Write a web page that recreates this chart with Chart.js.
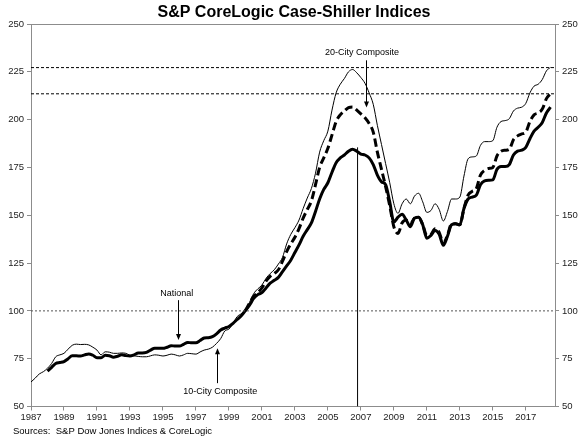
<!DOCTYPE html>
<html>
<head>
<meta charset="utf-8">
<script src="https://cdn.jsdelivr.net/npm/chart.js@4.4.1/dist/chart.umd.min.js"></script>
<style>
  html, body { margin: 0; padding: 0; background: #fff; }
  #wrap { width: 587px; height: 437px; position: relative; }
</style>
</head>
<body>
<div id="wrap"><canvas id="csChart"></canvas></div>
<script>
// Quarterly readings (Jan, Apr, Jul, Oct) taken off the chart
const firstYear = 1987;
const quarterSteps = [0, 0.25, 0.5, 0.75];

// 10-City Composite, from Jan 1987
const tenCity = [
  62.8, 64.8, 67.0, 68.2,   70.0, 72.5, 76.0, 77.0,   77.8, 80.0, 82.0, 82.6,
  82.4, 82.5, 82.2, 81.0,   79.5, 77.0, 78.6, 78.4,   77.8, 77.8, 78.0, 77.8,
  76.8, 76.5, 76.2, 76.0,   76.0, 76.5, 77.0, 76.8,   76.4, 76.8, 77.4, 77.0,
  76.4, 77.0, 77.8, 77.6,   77.4, 78.5, 79.5, 80.0,   81.0, 83.0, 85.5, 89.5,
  90.5, 93.5, 97.0, 98.5,   100.2, 104.5, 109.0, 111.5, 113.5, 117.0, 119.5, 121.5,
  124.5, 128.0, 135.0, 140.0, 143.5, 147.5, 153.5, 159.0, 164.0, 172.0, 183.0, 189.0,
  194.0, 205.0, 214.0, 218.5, 221.5, 225.0, 226.2, 224.5, 222.0, 219.0, 214.0, 208.0,
  197.0, 187.0, 177.0, 167.0, 156.0, 151.0, 156.0, 158.5, 156.0, 160.0, 161.5, 157.0,
  151.5, 152.5, 156.0, 153.0, 147.0, 152.0, 158.5, 158.5, 159.5, 170.5, 179.5, 180.5,
  181.0, 186.5, 188.5, 188.5, 189.0, 196.0, 199.0, 199.5, 200.5, 204.5, 206.0, 206.5,
  208.5, 214.0, 217.5, 218.5, 221.0, 225.5, 227.3
];

// 20-City Composite, from Jan 2000
const twentyStart = 2000;
const twentyCity = [
  100.0, 104.0, 107.5, 109.5, 112.0, 115.5, 118.0, 119.5, 121.5, 126.0, 131.0, 135.0,
  138.5, 143.0, 148.5, 153.0, 157.5, 166.0, 175.0, 180.0, 185.0, 192.0, 199.0, 202.5,
  204.5, 206.3, 206.6, 205.0, 203.0, 201.0, 198.0, 193.5, 183.0, 174.0, 165.0, 155.0,
  144.0, 140.5, 146.0, 147.5, 145.5, 148.5, 149.0, 145.0, 139.5, 140.0, 143.0, 141.0,
  135.5, 139.5, 145.5, 145.5, 145.0, 153.5, 160.5, 162.5, 164.0, 171.0, 173.5, 174.5,
  175.0, 181.0, 183.5, 184.0, 184.5, 189.5, 191.5, 192.5, 193.5, 199.0, 202.5, 203.5,
  205.5, 211.0, 213.6
];

// National, from Jan 1988
const nationalStart = 1988;
const national = [
  68.5, 70.5, 72.5, 73.0,   73.5, 75.0, 76.5, 76.5,   76.4, 77.0, 77.5, 76.8,
  75.5, 75.5, 76.8, 76.5,   75.8, 76.3, 77.0, 76.6,   76.4, 77.0, 78.0, 78.0,
  78.3, 79.5, 80.5, 80.4,   80.4, 81.0, 81.8, 81.6,   81.6, 82.5, 83.5, 83.3,
  83.3, 84.5, 85.8, 86.0,   86.5, 88.0, 90.0, 91.0,   91.8, 93.5, 95.5, 97.5,
  100.2, 103.0, 106.5, 108.5, 109.5, 112.0, 114.5, 116.0, 117.5, 120.5, 123.5, 126.5,
  130.5, 134.5, 139.0, 142.5, 146.0, 152.0, 158.5, 163.5, 167.0, 172.5, 177.5, 180.0,
  181.5, 183.5, 184.5, 183.5, 182.0, 181.5, 180.0, 176.5, 171.0, 167.5, 166.0, 157.0,
  146.5, 149.0, 150.5, 147.5, 144.0, 148.5, 149.0, 145.0, 138.0, 139.5, 142.0, 140.0,
  134.3, 139.0, 145.0, 145.5, 145.0, 153.5, 158.5, 159.5, 160.5, 166.0, 168.0, 168.3,
  168.5, 174.0, 175.5, 175.5, 176.5, 181.5, 183.5, 184.0, 185.5, 190.0, 194.0, 196.0,
  198.5, 203.5, 206.5
];

const refLevels = [227.2, 213.5];   // dashed lines (latest 10-City and 20-City levels)
const baseLevel = 100;              // Jan 2000 = 100
const peakYear = 2006.8;            // vertical marker at the national peak
const peakTop = 185.5;

const xMin = 1987, xMax = 2018.77;
const yearTicks = [1987, 1989, 1991, 1993, 1995, 1997, 1999, 2001, 2003, 2005, 2007, 2009, 2011, 2013, 2015, 2017];
const yTicks = [50, 75, 100, 125, 150, 175, 200, 225, 250];

// labels with arrows: text position, arrow start and tip in data units
const callouts = [
  { text: '20-City Composite', tx: 2007.07, ty: 235.3, ax: 2007.29, y0: 231.0, y1: 206.3 },
  { text: 'National',          tx: 1995.84, ty: 109.1, ax: 1995.94, y0: 105.6, y1: 84.8 },
  { text: '10-City Composite', tx: 1998.47, ty: 57.7,  ax: 1998.27, y0: 62.2,  y1: 80.5 }
];

function toPoints(values, startYear) {
  const pts = [];
  values.forEach((v, i) => {
    const yr = startYear + Math.floor(i / 4) + quarterSteps[i % 4];
    pts.push({ x: yr, y: v });
  });
  return pts;
}

const calloutPlugin = {
  id: 'callouts',
  afterDatasetsDraw(chart) {
    const ctx = chart.ctx;
    const xs = chart.scales.x, ys = chart.scales.y;
    ctx.save();
    ctx.fillStyle = '#000';
    ctx.strokeStyle = '#000';
    ctx.lineWidth = 1;
    ctx.font = '9px "Liberation Sans", Arial, sans-serif';
    ctx.textAlign = 'center';
    ctx.textBaseline = 'middle';
    callouts.forEach(c => {
      ctx.fillText(c.text, xs.getPixelForValue(c.tx), ys.getPixelForValue(c.ty));
      const ax = Math.round(xs.getPixelForValue(c.ax)) + 0.5;
      const p0 = ys.getPixelForValue(c.y0), p1 = ys.getPixelForValue(c.y1);
      const dir = p1 > p0 ? 1 : -1;
      ctx.beginPath();
      ctx.moveTo(ax, p0);
      ctx.lineTo(ax, p1 - dir * 5);
      ctx.stroke();
      ctx.beginPath();
      ctx.moveTo(ax, p1);
      ctx.lineTo(ax - 2.5, p1 - dir * 6);
      ctx.lineTo(ax + 2.5, p1 - dir * 6);
      ctx.closePath();
      ctx.fill();
    });
    // top border of the plot box
    const a = chart.chartArea;
    ctx.strokeStyle = '#8c8c8c';
    ctx.beginPath();
    ctx.moveTo(a.left, Math.round(a.top) + 0.5);
    ctx.lineTo(a.right, Math.round(a.top) + 0.5);
    ctx.stroke();
    // title and source line
    ctx.fillStyle = '#000';
    ctx.font = 'bold 16px "Liberation Sans", Arial, sans-serif';
    ctx.fillText('S&P CoreLogic Case-Shiller Indices', 294, 13);
    ctx.font = '9.5px "Liberation Sans", Arial, sans-serif';
    ctx.textAlign = 'left';
    ctx.fillText('Sources:  S&P Dow Jones Indices & CoreLogic', 13, 431);
    ctx.restore();
  }
};

const refSets = refLevels.map(v => ({
  data: [{ x: xMin, y: v }, { x: xMax, y: v }],
  borderColor: '#000', borderWidth: 1, borderDash: [3, 2],
  pointRadius: 0, tension: 0
}));

const yAxisBase = {
  type: 'linear', min: 50, max: 250,
  afterBuildTicks: s => { s.ticks = yTicks.map(v => ({ value: v })); },
  border: { display: true, color: '#8c8c8c', width: 1 },
  grid: { drawOnChartArea: false, drawTicks: true, tickLength: 4, color: '#8c8c8c' },
  ticks: { color: '#222', font: { family: '"Liberation Sans", Arial, sans-serif', size: 9.5 }, padding: 3 }
};

new Chart(document.getElementById('csChart'), {
  type: 'line',
  data: {
    datasets: [
      ...refSets,
      {
        data: [{ x: xMin, y: baseLevel }, { x: xMax, y: baseLevel }],
        borderColor: '#555', borderWidth: 1, borderDash: [2, 2], pointRadius: 0
      },
      {
        data: [{ x: peakYear, y: 50 }, { x: peakYear, y: peakTop }],
        borderColor: '#000', borderWidth: 1, pointRadius: 0
      },
      {
        label: '10-City Composite',
        data: toPoints(tenCity, firstYear),
        borderColor: '#000', borderWidth: 1, pointRadius: 0,
        cubicInterpolationMode: 'monotone'
      },
      {
        label: '20-City Composite',
        data: toPoints(twentyCity, twentyStart),
        borderColor: '#000', borderWidth: 3, borderDash: [8, 4], pointRadius: 0,
        cubicInterpolationMode: 'monotone'
      },
      {
        label: 'National',
        data: toPoints(national, nationalStart),
        borderColor: '#000', borderWidth: 3, pointRadius: 0,
        cubicInterpolationMode: 'monotone'
      }
    ]
  },
  options: {
    responsive: true,
    maintainAspectRatio: false,
    animation: false,
    layout: { padding: { top: 24, left: 0, right: 0, bottom: 0 } },
    plugins: { legend: { display: false }, tooltip: { enabled: false }, title: { display: false } },
    scales: {
      x: {
        type: 'linear', min: xMin, max: xMax,
        afterBuildTicks: s => { s.ticks = yearTicks.map(v => ({ value: v })); },
        afterFit: s => { s.height = 30.5; },
        border: { display: true, color: '#8c8c8c', width: 1 },
        grid: { drawOnChartArea: false, drawTicks: true, tickLength: 4, color: '#8c8c8c' },
        ticks: {
          color: '#222', autoSkip: false, maxRotation: 0, padding: 1,
          font: { family: '"Liberation Sans", Arial, sans-serif', size: 9.5 },
          callback: v => String(v)
        }
      },
      y: Object.assign({}, yAxisBase, { position: 'left', afterFit: s => { s.width = 31; } }),
      y2: Object.assign({}, yAxisBase, { position: 'right', afterFit: s => { s.width = 32; } })
    }
  },
  plugins: [calloutPlugin]
});
</script>
</body>
</html>
